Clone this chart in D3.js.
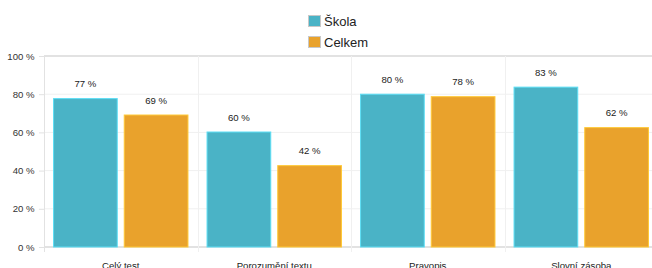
<!DOCTYPE html>
<html><head><meta charset="utf-8">
<script src="https://cdn.jsdelivr.net/npm/d3@7"></script>
<style>
html,body{margin:0;padding:0;background:#fff;}
svg{display:block;font-family:"Liberation Sans",Arial,Helvetica,sans-serif;}
</style></head>
<body>
<svg id="c" width="652" height="268"></svg>
<script>
const categories = ["Celý test", "Porozumění textu", "Pravopis", "Slovní zásoba"];
const seriesNames = ["Škola", "Celkem"];
const skola = [77.7, 60.2, 80.0, 83.7];
const celkem = [69.1, 42.6, 78.7, 62.5];
const colors = ["#4ab3c6", "#e9a22c"];
const yTicks = [0, 20, 40, 60, 80, 100];

(function () {
const svg = d3.select("#c");
const pL = 44, pR = 658, pT = 56, pB = 247;

const x0 = d3.scaleBand().domain(categories).range([pL, pR]).paddingInner(0).paddingOuter(0);
const x1 = d3.scaleBand().domain(seriesNames).range([0, x0.bandwidth()]).paddingInner(0.099).paddingOuter(0.135);
const y = d3.scaleLinear().domain([0, 100]).range([pB, pT]);

// horizontal grid
svg.append("g").selectAll("line").data(yTicks).join("line")
  .attr("x1", pL).attr("x2", pR)
  .attr("y1", d => y(d)).attr("y2", d => y(d))
  .attr("stroke", d => (d === 0 || d === 100) ? "#e2e2e2" : "#f0f0f0")
  .attr("stroke-width", d => (d === 0 || d === 100) ? 2 : 1);

// vertical grid (band boundaries) with ticks below
svg.append("g").selectAll("line").data(categories).join("line")
  .attr("x1", d => Math.round(x0(d)) + 0.5).attr("x2", d => Math.round(x0(d)) + 0.5)
  .attr("y1", pT).attr("y2", pB + 5)
  .attr("stroke", (d, i) => i === 0 ? "#e2e2e2" : "#f0f0f0");

// y axis
const yAxis = d3.axisLeft(y).tickValues(yTicks).tickSize(5).tickPadding(4.5).tickFormat(d => d + " %");
const ya = svg.append("g").attr("transform", `translate(${pL},0)`).call(yAxis);
ya.select(".domain").remove();
ya.selectAll(".tick line").attr("stroke", "#e2e2e2");
ya.selectAll(".tick text").attr("fill", "#333").style("font-size", "9.6px")
  .style("font-family", "'Liberation Sans',Arial,sans-serif");

// x axis labels
const xAxis = d3.axisBottom(x0).tickSize(0).tickPadding(0);
const xa = svg.append("g").attr("transform", `translate(0,${pB})`).call(xAxis);
xa.select(".domain").remove();
xa.selectAll(".tick text").attr("fill", "#222").attr("dy", null).attr("y", 21.5)
  .style("font-size", "9.6px").style("font-family", "'Liberation Sans',Arial,sans-serif");

// bars
const rows = categories.map((c, i) => ({cat: c, vals: [
  {name: seriesNames[0], v: skola[i], color: colors[0]},
  {name: seriesNames[1], v: celkem[i], color: colors[1]}]}));

const g = svg.append("g").selectAll("g").data(rows).join("g")
  .attr("transform", d => `translate(${x0(d.cat)},0)`);

g.selectAll("rect").data(d => d.vals).join("rect")
  .attr("x", d => x1(d.name)).attr("width", x1.bandwidth())
  .attr("y", d => y(d.v)).attr("height", d => pB - y(d.v))
  .attr("fill", d => d.color)
  .attr("stroke", d => d3.color(d.color).brighter(0.6))
  .attr("stroke-width", 1);

g.selectAll("text").data(d => d.vals).join("text")
  .attr("x", d => x1(d.name) + x1.bandwidth() / 2)
  .attr("y", d => y(d.v) - 11.5)
  .attr("text-anchor", "middle")
  .attr("fill", "#222").style("font-size", "9.6px")
  .text(d => Math.floor(d.v) + " %");

// legend
const lg = svg.append("g").selectAll("g").data(seriesNames).join("g")
  .attr("transform", (d, i) => `translate(308,${15 + i * 21})`);
lg.append("rect").attr("x", 0.5).attr("y", 0.5).attr("width", 12).attr("height", 11)
  .attr("fill", (d, i) => colors[i]).attr("stroke", "#c8c8c8").attr("stroke-width", 1);
lg.append("text").attr("x", 16).attr("y", 11).attr("fill", "#222")
  .style("font-size", "13px").text(d => d);
})();
</script>
</body></html>
